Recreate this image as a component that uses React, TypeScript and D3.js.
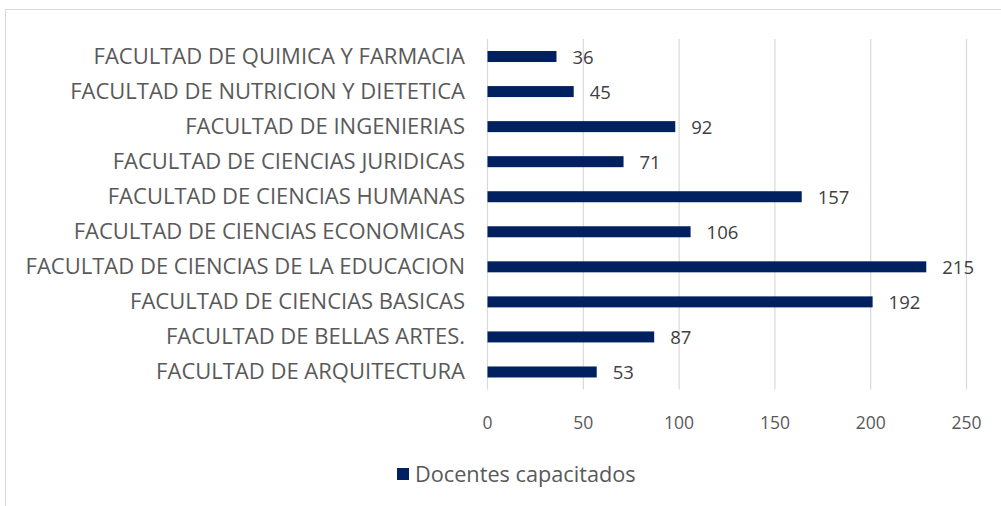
import React from "react";
import * as d3 from "d3";

// Categories from top to bottom
const categories: string[] = [
  "FACULTAD DE QUIMICA Y FARMACIA",
  "FACULTAD DE NUTRICION Y DIETETICA",
  "FACULTAD DE INGENIERIAS",
  "FACULTAD DE CIENCIAS JURIDICAS",
  "FACULTAD DE CIENCIAS HUMANAS",
  "FACULTAD DE CIENCIAS ECONOMICAS",
  "FACULTAD DE CIENCIAS DE LA EDUCACION",
  "FACULTAD DE CIENCIAS BASICAS",
  "FACULTAD DE BELLAS ARTES.",
  "FACULTAD DE ARQUITECTURA",
];
// Bar lengths as drawn in the picture
const barValues: number[] = [36, 45, 98, 71, 164, 106, 229, 201, 87, 57];
// Data labels as printed
const labelValues: number[] = [36, 45, 92, 71, 157, 106, 215, 192, 87, 53];
const tickValues: number[] = [0, 50, 100, 150, 200, 250];
const seriesName = "Docentes capacitados";

const W = 1001;
const H = 506;
const FONT = "'Open Sans', sans-serif";
const TEXT = "#595959";
const BAR = "#002060";
const GRID = "#d9d9d9";

export default function App() {
  const x = d3.scaleLinear().domain([0, 250]).range([487.5, 966.5]);
  const y = d3.scaleBand<string>().domain(categories).range([39, 389.5]).padding(0);
  const bh = 11;
  const cy = (c: string) => (y(c) as number) + y.bandwidth() / 2;

  return (
    <div style={{ position: "absolute", left: 0, top: 0 }}>
      <svg width={W} height={H} style={{ display: "block", background: "#fff" }}>
        <rect x={5.5} y={9.5} width={1000} height={500} fill="#fff" stroke={GRID} strokeWidth={1} />
        {tickValues.map((t) => (
          <line key={"g" + t} x1={x(t)} x2={x(t)} y1={39} y2={389.5} stroke={GRID} strokeWidth={1.2} />
        ))}
        {categories.map((c, i) => (
          <rect key={"b" + c} x={x(0)} y={cy(c) - bh / 2} width={x(barValues[i]) - x(0)} height={bh} fill={BAR} />
        ))}
        {categories.map((c, i) => (
          <text key={"v" + c} x={x(barValues[i]) + 16} y={cy(c) + 7.5} fontFamily={FONT} fontSize={18.5} fill="#404040">
            {labelValues[i]}
          </text>
        ))}
        {categories.map((c) => (
          <text key={"c" + c} x={465} y={cy(c) + 7.5} textAnchor="end" fontFamily={FONT} fontSize={22} fill={TEXT}>
            {c}
          </text>
        ))}
        {tickValues.map((t) => (
          <text key={"t" + t} x={x(t)} y={428.5} textAnchor="middle" fontFamily={FONT} fontSize={17.5} fill={TEXT}>
            {t}
          </text>
        ))}
        <rect x={397} y={468} width={12} height={12} fill={BAR} />
        <text x={415} y={481.5} fontFamily={FONT} fontSize={21.7} fill={TEXT}>
          {seriesName}
        </text>
      </svg>
    </div>
  );
}
